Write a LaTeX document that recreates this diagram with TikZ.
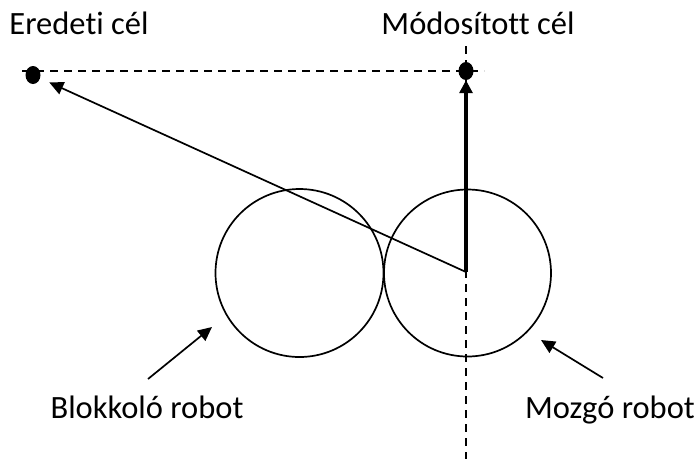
\documentclass[tikz,border=0pt]{standalone}
\usepackage{fontspec}
\setmainfont[RawFeature={-liga}]{Carlito}
\usetikzlibrary{arrows.meta,shapes.geometric}
\begin{document}
\begin{tikzpicture}[x=1pt,y=-1pt,
  guide/.style={line width=1.7pt,dash pattern=on 8pt off 6pt},
  robot/.style={circle,draw,line width=1.7pt,minimum size=168pt,inner sep=0pt},
  goal/.style={ellipse,fill=black,minimum width=15pt,minimum height=18pt,inner sep=0pt},
  pointer/.style={line width=1.7pt,-{Triangle[length=14pt,width=13pt]}},
  label/.style={font=\fontsize{32.5}{36}\selectfont,inner sep=0pt,anchor=base}]
\useasboundingbox (0,0) rectangle (699,459);
% robots
\node[robot] (block) at (299.5,273) {};
\node[robot,minimum size=167pt] (move) at (467.5,273) {};
\coordinate (c) at (466,272);
% goals
\node[goal] (orig) at (33,75) {};
\node[goal] (mod) at (466,71) {};
% guide lines
\coordinate (hl) at (22,71);
\coordinate (hr) at (484,71);
\coordinate (vt) at (466,46);
\coordinate (vb) at (466,459);
\draw[guide] (hl) -- (hr);
\draw[guide] (vt) -- (vb);
% headings
\draw[pointer,shorten >=10pt] (c) -- (orig);
\draw[line width=3.2pt,-{Triangle[length=13pt,width=13pt]}] (c) -- (mod.south);
% labels
\node[label] (t1) at (79,34) {Eredeti cél};
\node[label] (t2) at (478,34) {Módosított cél};
\node[label] (t3) at (147,418) {Blokkoló robot};
\node[label] (t4) at (610,418) {Mozgó robot};
% pointers to the robots
\coordinate (a1) at (148,379);
\coordinate (b1) at (212,327);
\coordinate (a2) at (603,378);
\coordinate (b2) at (541,340);
\draw[pointer] (a1) -- (b1);
\draw[pointer] (a2) -- (b2);
\end{tikzpicture}
\end{document}
